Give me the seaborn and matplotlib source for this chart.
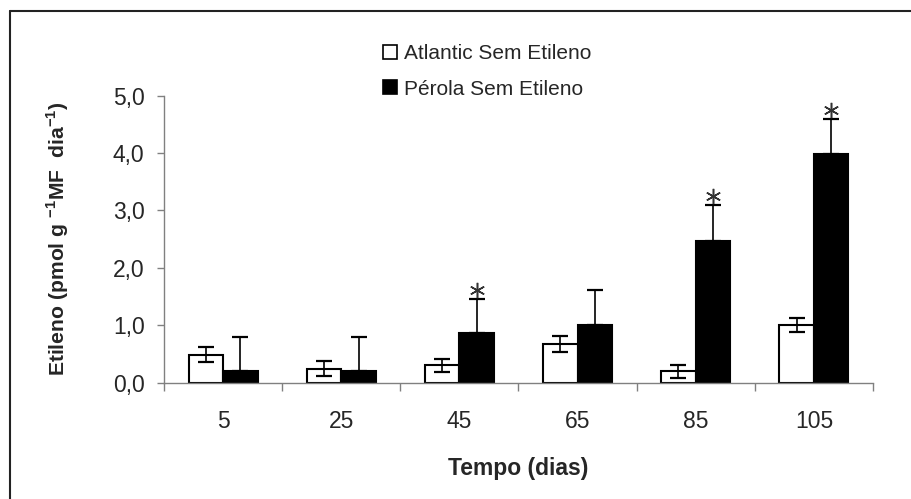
import numpy as np
import pandas as pd
import matplotlib
matplotlib.use("Agg")
import matplotlib.pyplot as plt
import seaborn as sns
from matplotlib.patches import Patch
from matplotlib.lines import Line2D
from matplotlib.transforms import offset_copy

# ---- data ----
tempo = ["5", "25", "45", "65", "85", "105"]
series = ["Atlantic Sem Etileno", "Pérola Sem Etileno"]
atlantic = [0.49, 0.24, 0.30, 0.68, 0.20, 1.00]
atlantic_err = [0.13, 0.13, 0.11, 0.14, 0.11, 0.12]
perola = [0.20, 0.20, 0.86, 1.00, 2.47, 3.98]
perola_err = [0.60, 0.60, 0.59, 0.61, 0.63, 0.61]
signif = [False, False, True, False, True, True]  # asterisks on Pérola
yticks = [0.0, 1.0, 2.0, 3.0, 4.0, 5.0]
ytick_labels = ["0,0", "1,0", "2,0", "3,0", "4,0", "5,0"]

df = pd.DataFrame({
    "Tempo": tempo * 2,
    "Serie": [series[0]] * len(tempo) + [series[1]] * len(tempo),
    "Valor": atlantic + perola,
})

sns.set_style("white")
plt.rcParams["font.family"] = ["Liberation Sans", "DejaVu Sans"]

fig = plt.figure(figsize=(9.12, 4.99), dpi=100)
ax = fig.add_axes([164 / 912, 1 - 382.7 / 499, (873 - 164) / 912, (382.7 - 95.7) / 499])

sns.barplot(data=df, x="Tempo", y="Valor", hue="Serie", order=tempo,
            hue_order=series, palette=["white", "black"], edgecolor="black",
            linewidth=1.5, width=0.585, errorbar=None, saturation=1,
            legend=False, ax=ax)

# error bars
for cont, vals, errs, kind in [(ax.containers[0], atlantic, atlantic_err, "both"),
                               (ax.containers[1], perola, perola_err, "up")]:
    xs = [p.get_x() + p.get_width() / 2 for p in cont]
    if kind == "both":
        yerr = [errs, errs]
    else:
        yerr = [[0] * len(errs), errs]
    ax.errorbar(xs, vals, yerr=yerr, fmt="none", ecolor="black",
                elinewidth=1.2, capsize=6, capthick=1.6, zorder=3)
    if kind == "up":
        tr = offset_copy(ax.transData, fig=fig, y=6.5, units="points")
        for x, v, e, s in zip(xs, vals, errs, signif):
            if s:
                ax.plot([x], [v + e], marker=(6, 2, 0), markersize=11,
                        color="#333333", markeredgewidth=1.1, transform=tr,
                        clip_on=False, zorder=4)

ax.set_ylim(0, 5)
ax.set_xlim(-0.5, len(tempo) - 0.5)
ax.set_yticks(yticks)
ax.set_yticklabels(ytick_labels, fontsize=16.5)
ax.tick_params(axis="y", which="major", direction="out", length=5, width=1,
               color="#808080", pad=9, left=True)
ax.set_xticks(range(len(tempo)))
ax.set_xticklabels(tempo, fontsize=16.5)
ax.set_xticks(np.arange(-0.5, len(tempo), 1.0), minor=True)
ax.tick_params(axis="x", which="major", length=0, pad=20)
ax.tick_params(axis="x", which="minor", direction="out", length=6, width=1,
               color="#808080", bottom=True)

for side in ["top", "right"]:
    ax.spines[side].set_visible(False)
for side in ["left", "bottom"]:
    ax.spines[side].set_color("#808080")
    ax.spines[side].set_linewidth(1.0)

ax.set_xlabel("Tempo (dias)", fontsize=16.5, fontweight="bold", labelpad=17)
ax.set_ylabel(r"Etileno (pmol g $^{\mathregular{-1}}$MF  dia$^{\mathregular{-1}}$)",
              fontsize=15.2, fontweight="bold")
ax.yaxis.set_label_coords((71 - 164) / 709, 0.5)

handles = [Patch(facecolor="white", edgecolor="black", linewidth=1.2),
           Patch(facecolor="black", edgecolor="black", linewidth=1.2)]
fig.legend(handles, series, loc="upper left",
           bbox_to_anchor=(383 / 912, 1 - 44 / 499), frameon=False,
           fontsize=15, handlelength=0.65, handleheight=0.65,
           handletextpad=0.35, labelspacing=0.8, borderpad=0, borderaxespad=0)

# outer border (top and left edges)
fig.add_artist(Line2D([10 / 912, 1], [1 - 11 / 499, 1 - 11 / 499],
                      transform=fig.transFigure, color="#222222", linewidth=1.5))
fig.add_artist(Line2D([10 / 912, 10 / 912], [0, 1 - 11 / 499],
                      transform=fig.transFigure, color="#222222", linewidth=1.5))

fig.savefig("out.png", dpi=100)
